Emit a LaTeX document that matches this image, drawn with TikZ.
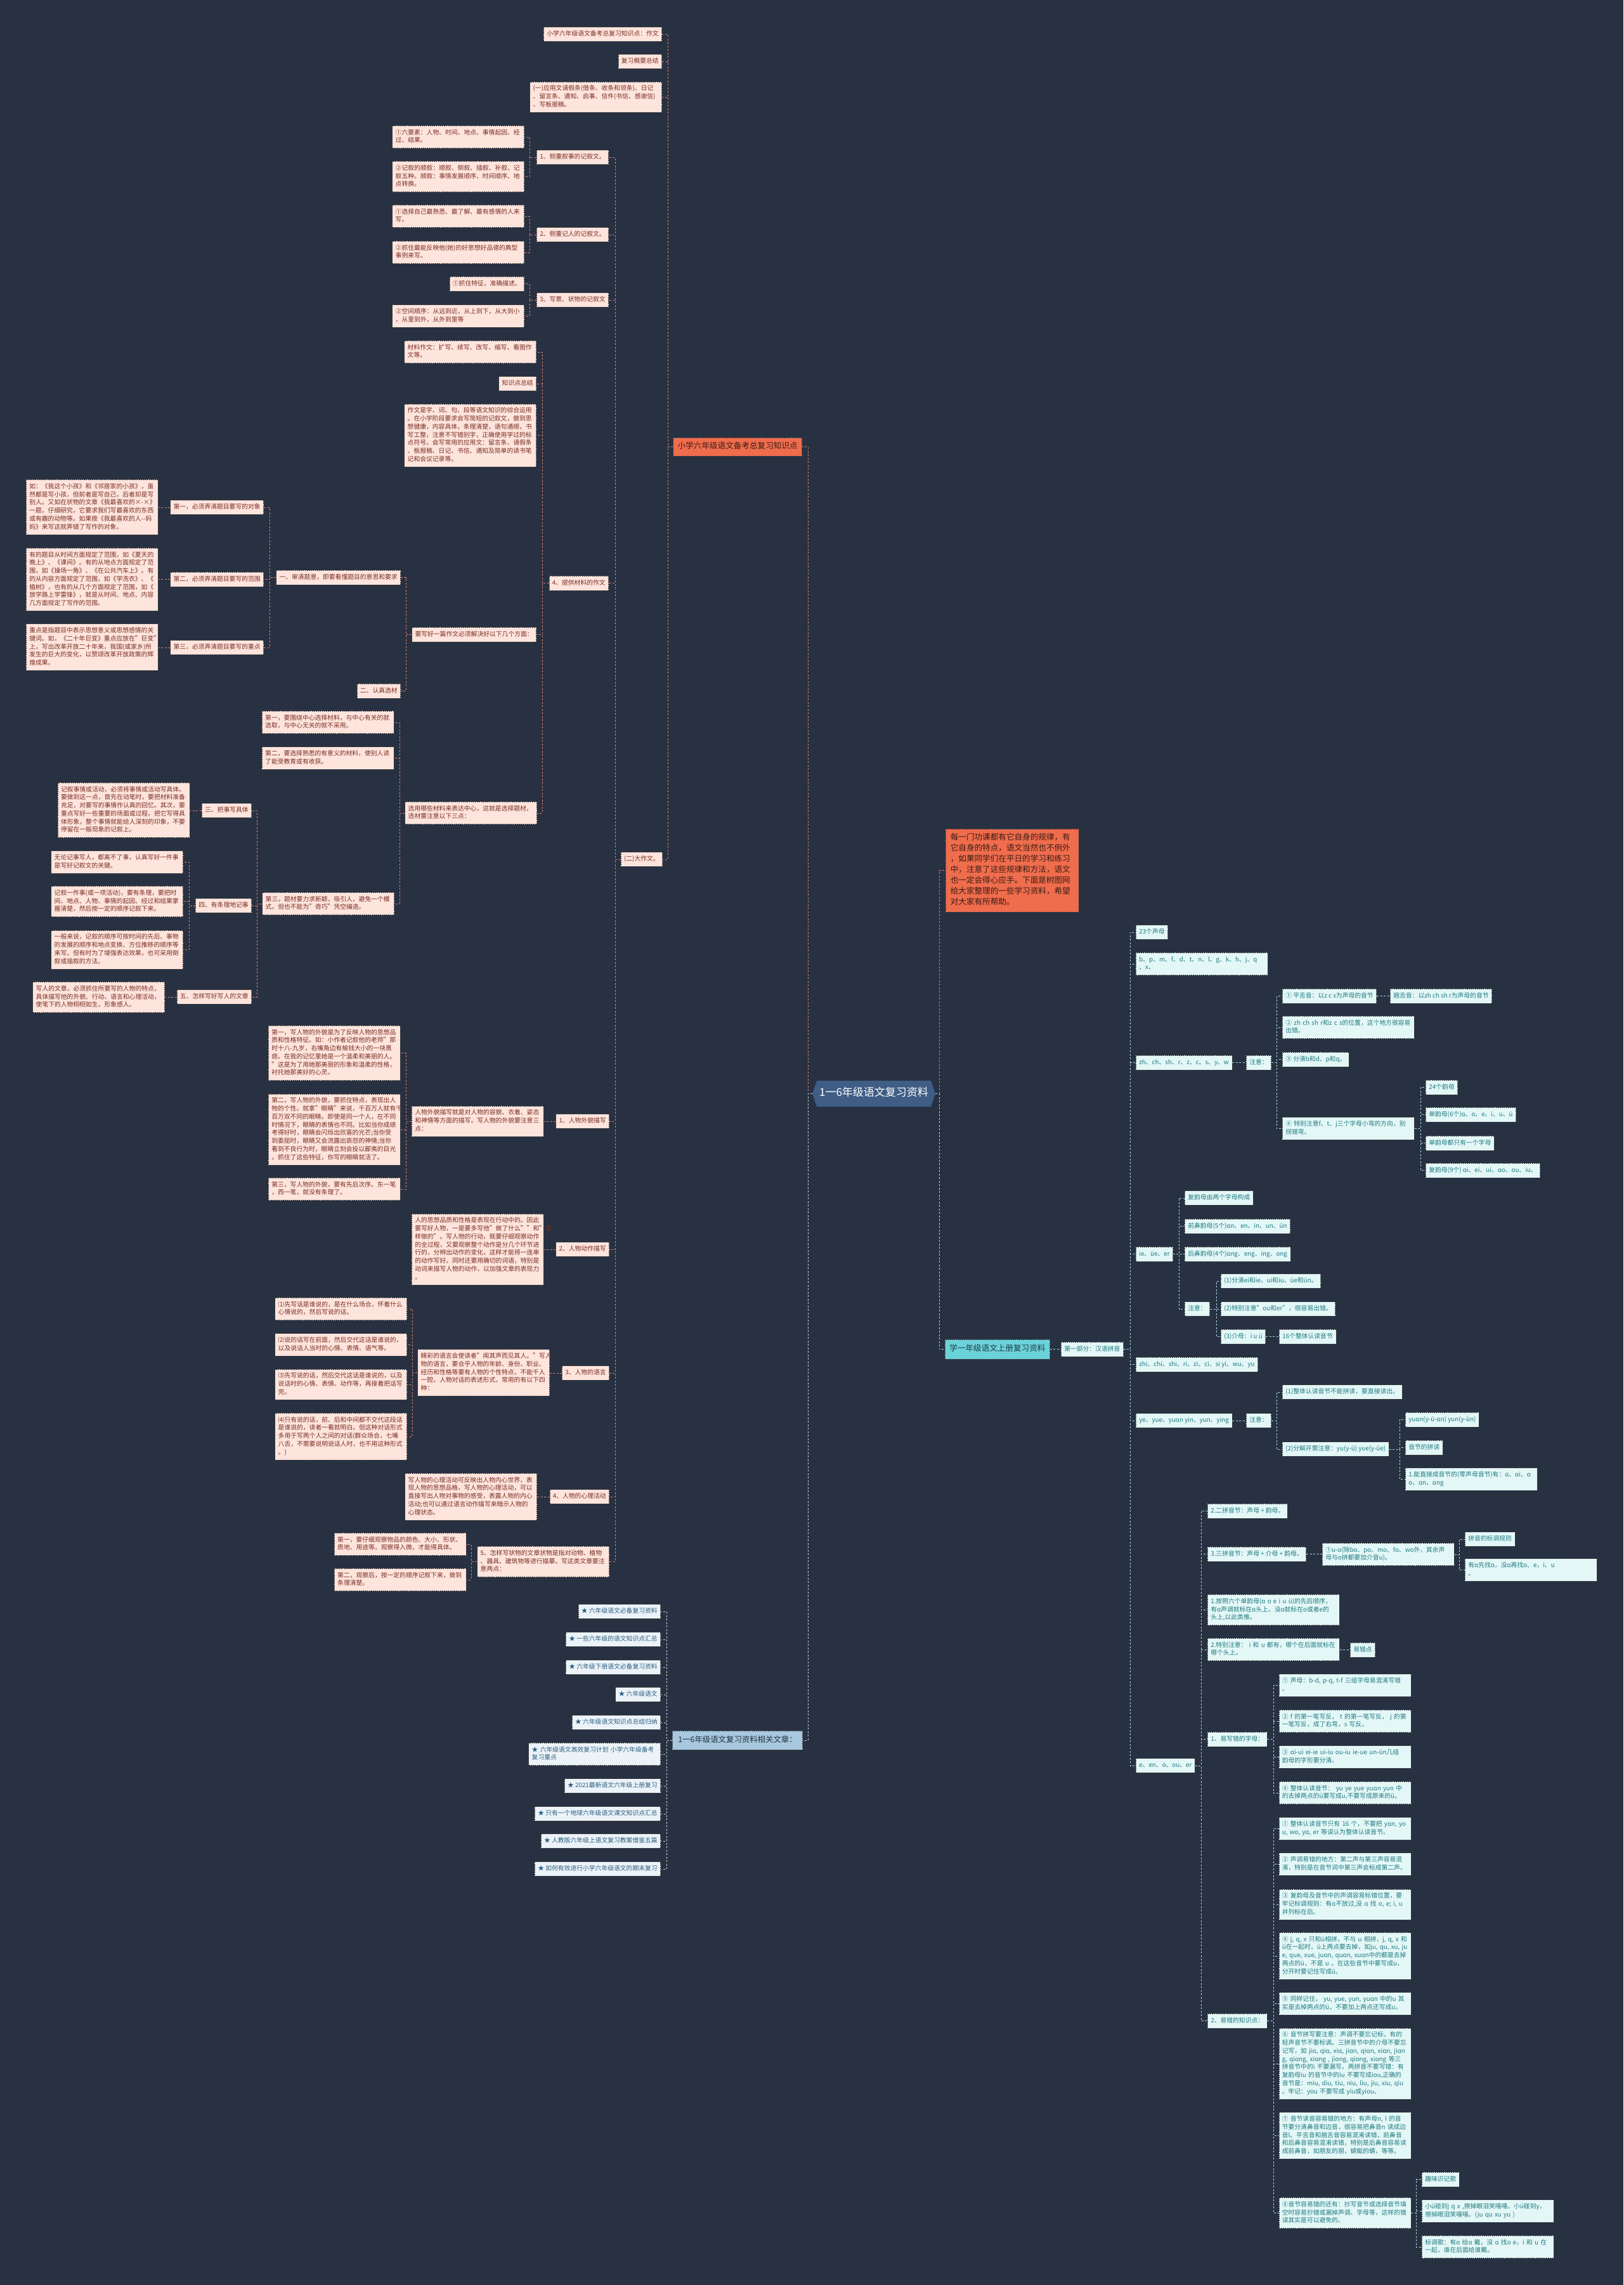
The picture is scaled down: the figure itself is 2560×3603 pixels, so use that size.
\documentclass[tikz,border=0pt]{standalone}
\usepackage{fontspec}
\setmainfont{Noto Sans CJK SC}
\usetikzlibrary{shapes.symbols}
\definecolor{bg}{HTML}{283142}
\definecolor{pkfill}{HTML}{FDE4DC}
\definecolor{pktext}{HTML}{7A2E24}
\definecolor{pkline}{HTML}{D9826B}
\definecolor{redfill}{HTML}{EF6C4D}
\definecolor{redtext}{HTML}{3B1D14}
\definecolor{rootfill}{HTML}{3F5D85}
\definecolor{cyfill}{HTML}{E4F7F7}
\definecolor{cytext}{HTML}{1F7A80}
\definecolor{cyline}{HTML}{A6DCE0}
\definecolor{fgfill}{HTML}{6CD2DA}
\definecolor{fgtext}{HTML}{1B3D44}
\definecolor{blfill}{HTML}{A7C8DE}
\definecolor{bltext}{HTML}{22313F}
\definecolor{bifill}{HTML}{ECF3F8}
\definecolor{bitext}{HTML}{2B5E80}
\definecolor{blline}{HTML}{C6D4DF}
\definecolor{bord}{HTML}{3C3C3C}
\newcommand\TL[1]{\begin{tabular}{@{}l@{}}#1\end{tabular}}
\newcommand\LC[4]{\foreach \kid in {#4}{\draw[#1] (#2.west) -- (#2.west -| #3) |- (\kid.east);}}
\newcommand\RC[4]{\foreach \kid in {#4}{\draw[#1] (#2.east) -- (#2.east -| #3) |- (\kid.west);}}
\tikzset{
 nbox/.style={rectangle, draw=bord, dash pattern=on 2pt off 1.2pt, line width=0.6pt,
   inner xsep=5pt, inner ysep=5pt, font=\fontsize{9.8}{12.75}\selectfont, align=left,
   execute at begin node=\strut},
 spk/.style={nbox, fill=pkfill, text=pktext},
 scy/.style={nbox, fill=cyfill, text=cytext},
 sbi/.style={nbox, fill=bifill, text=bitext},
 lt/.style={anchor=east},
 rt/.style={anchor=west},
 tw/.style={text width=198pt},
 cpk/.style={draw=pkline, line width=1pt, dash pattern=on 3pt off 2.5pt},
 ccy/.style={draw=cyline, line width=1pt, dash pattern=on 3pt off 2.5pt},
 cbl/.style={draw=blline, line width=1pt, dash pattern=on 3pt off 2.5pt},
 rednode/.style={nbox, fill=redfill, text=redtext, font=\fontsize{12.6}{15}\selectfont, inner xsep=7pt, inner ysep=7pt},
 rootnode/.style={signal, signal to=west and east, signal pointer angle=142, fill=rootfill, text=white,
   font=\fontsize{17}{20}\selectfont, inner xsep=4pt, minimum height=41pt, execute at begin node=\strut},
 fgnode/.style={nbox, fill=fgfill, text=fgtext, font=\fontsize{12.6}{15}\selectfont, inner xsep=7pt, inner ysep=8pt},
 relnode/.style={nbox, fill=blfill, text=bltext, font=\fontsize{12.4}{15}\selectfont, inner xsep=9pt, inner ysep=7.5pt}
}
\begin{document}
\begin{tikzpicture}[x=1pt,y=-1pt]
\fill[bg] (0,0) rectangle (2560,3603);
\useasboundingbox (0,0) rectangle (2560,3603);
% trunk coordinates
\coordinate (tL) at (1274,0); \coordinate (tR) at (1481,0);
\coordinate (tRed) at (1053,0); \coordinate (tBig) at (970,0);
\coordinate (t835) at (835,0); \coordinate (t855) at (855,0);
\coordinate (t640) at (640,0); \coordinate (t425) at (425,0);
\coordinate (t630) at (630,0); \coordinate (t405) at (405,0);
\coordinate (t298) at (298,0); \coordinate (t650) at (650,0);
\coordinate (t743) at (743,0); \coordinate (t1051) at (1051,0);
\coordinate (t1782) at (1782,0); \coordinate (t2013) at (2013,0);
\coordinate (t2240) at (2240,0); \coordinate (t1859) at (1859,0);
\coordinate (t1918) at (1918,0); \coordinate (t2207) at (2207,0);
\coordinate (t1894) at (1894,0); \coordinate (t2301) at (2301,0);
\coordinate (t2008) at (2008,0); \coordinate (t2233) at (2233,0);

% root and main branches
\node[rootnode] (root) at (1378,1724.5) {1一6年级语文复习资料};
\node[rednode, anchor=east] (P) at (1265,704.5) {小学六年级语文备考总复习知识点};
\node[rednode, anchor=west, text width=195pt, font=\fontsize{12.6}{17}\selectfont, inner xsep=7.5pt, inner ysep=6pt] (desc) at (1491,1372.5)
 {\TL{每一门功课都有它自身的规律，有\\它自身的特点，语文当然也不例外\\，如果同学们在平日的学习和练习\\中，注意了这些规律和方法，语文\\也一定会得心应手。下面是树图网\\给大家整理的一些学习资料，希望\\对大家有所帮助。}};
\node[fgnode, rt] (fg) at (1490,2127.5) {学一年级语文上册复习资料};
\node[relnode, lt] (rel) at (1266,2744) {1一6年级语文复习资料相关文章：};

% ---------- left (pink) ----------
\node[spk,lt] (a1) at (1044,54) {小学六年级语文备考总复习知识点：作文};
\node[spk,lt] (a2) at (1044,97) {复习概要总结};
\node[spk,lt,tw] (a3) at (1044,153) {\TL{(一)应用文请假条(借条、收条和领条)、日记\\、留言条、通知、启事、信件(书信、感谢信)\\、写板报稿。}};
\node[spk,lt] (a4) at (1045,1355) {(二)大作文。};

\node[spk,lt] (b1) at (960,248) {1、侧重叙事的记叙文。};
\node[spk,lt] (b2) at (960,370) {2、侧重记人的记叙文。};
\node[spk,lt] (b3) at (960,473) {3、写景、状物的记叙文};
\node[spk,lt] (b4) at (960,919.5) {4、提供材料的作文};
\node[spk,lt] (b5) at (961,1768) {1、人物外貌描写};
\node[spk,lt] (b6) at (961,1970) {2、人物动作描写};
\node[spk,lt] (b7) at (961,2165) {3、人物的语言};
\node[spk,lt] (b8) at (961,2360) {4、人物的心理活动};
\node[spk,lt,tw] (b9) at (961,2462.5) {\TL{5、怎样写状物的文章状物是指对动物、植物\\、器具、建筑物等进行描摹。写这类文章要注\\意两点：}};

\node[spk,lt,tw] (c11) at (827,216) {\TL{①六要素：人物、时间、地点、事情起因、经\\过、结果。}};
\node[spk,lt,tw] (c12) at (827,278.5) {\TL{②记叙的顺叙：顺叙、倒叙、插叙、补叙、记\\叙五种。顺叙：事情发展顺序、时间顺序、地\\点转换。}};
\node[spk,lt,tw] (c21) at (827,341) {\TL{①选择自己最熟悉、最了解、最有感情的人来\\写。}};
\node[spk,lt,tw] (c22) at (827,398) {\TL{②抓住最能反映他(她)的好思想好品德的典型\\事例来写。}};
\node[spk,lt] (c31) at (827,447.5) {①抓住特征，准确描述。};
\node[spk,lt,tw] (c32) at (827,498.5) {\TL{②空间顺序：从远到近，从上到下，从大到小\\，从里到外，从外到里等}};
\node[spk,lt,tw] (c41) at (846,555) {\TL{材料作文：扩写、续写、改写、缩写、看图作\\文等。}};
\node[spk,lt] (c42) at (846,605) {知识点总结};
\node[spk,lt,tw] (c43) at (846,686.5) {\TL{作文是字、词、句、段等语文知识的综合运用\\。在小学阶段要求会写简短的记叙文，做到思\\想健康，内容具体，条理清楚，语句通顺，书\\写工整，注意不写错别字，正确使用学过的标\\点符号。会写常用的应用文：留言条、请假条\\、板报稿、日记、书信、通知及简单的读书笔\\记和会议记录等。}};
\node[spk,lt] (c44) at (846,1000.5) {要写好一篇作文必须解决好以下几个方面：};
\node[spk,lt,tw] (c45) at (847,1282) {\TL{选用哪些材料来表达中心，这就是选择题材，\\选材要注意以下三点：}};

\node[spk,lt] (d1) at (632,910.5) {一、审清题意，即要看懂题目的意思和要求};
\node[spk,lt] (d2) at (632,1089.5) {二、认真选材};
\node[spk,lt] (e1) at (416,800) {第一，必须弄清题目要写的对象};
\node[spk,lt] (e2) at (416,913.5) {第二，必须弄清题目要写的范围};
\node[spk,lt] (e3) at (416,1021) {第三，必须弄清题目要写的重点};
\node[spk,lt,tw] (f1) at (249.6,799.7) {\TL{如：《我这个小孩》和《邻居家的小孩》，虽\\然都是写小孩，但前者是写自己，后者却是写\\别人。又如在状物的文章《我最喜欢的×-×》\\一题，仔细研究，它要求我们写最喜欢的东西\\或有趣的动物等。如果按《我最喜欢的人-{}-妈\\妈》来写这就弄错了写作的对象。}};
\node[spk,lt,tw] (f2) at (249.6,913.75) {\TL{有的题目从时间方面规定了范围，如《夏天的\\晚上》、《课间》。有的从地点方面规定了范\\围，如《操场一角》、《在公共汽车上》。有\\的从内容方面规定了范围，如《学洗衣》、《\\植树》，也有的从几个方面规定了范围，如《\\放学路上学雷锋》，就是从时间、地点、内容\\几方面规定了写作的范围。}};
\node[spk,lt,tw] (f3) at (249.6,1020.5) {\TL{重点是指题目中表示思想意义或思想感情的关\\键词。如，《二十年巨变》重点应放在"巨变"\\上，写出改革开放二十年来，我国(或家乡)所\\发生的巨大的变化，以赞颂改革开放政策的辉\\煌成果。}};

\node[spk,lt,tw] (g1) at (621.5,1139) {\TL{第一，要围绕中心选择材料，与中心有关的就\\选取，与中心无关的就不采用。}};
\node[spk,lt,tw] (g2) at (621.5,1195.5) {\TL{第二，要选择熟悉的有意义的材料，使别人读\\了能受教育或有收获。}};
\node[spk,lt,tw] (g3) at (622,1425) {\TL{第三，题材要力求新颖，吸引人，避免一个模\\式。但也不能为"奇巧"凭空编造。}};
\node[spk,lt] (h1) at (397,1278) {三、把事写具体};
\node[spk,lt] (h2) at (397,1428) {四、有条理地记事};
\node[spk,lt] (h3) at (397,1572) {五、怎样写好写人的文章};
\node[spk,lt,tw] (i1) at (299.3,1277.5) {\TL{记叙事情或活动，必须将事情或活动写具体。\\要做到这一点，首先在动笔时，要把材料准备\\充足，对要写的事情作认真的回忆。其次，要\\重点写好一些重要的场面或过程，把它写得具\\体形象，整个事情就能给人深刻的印象，不要\\停留在一般现象的记叙上。}};
\node[spk,lt,tw] (i2) at (289,1359.5) {\TL{无论记事写人，都离不了事，认真写好一件事\\是写好记叙文的关键。}};
\node[spk,lt,tw] (i3) at (289,1421.5) {\TL{记叙一件事(或一项活动)，要有条理，要把时\\间、地点、人物、事情的起因、经过和结果掌\\握清楚，然后按一定的顺序记叙下来。}};
\node[spk,lt,tw] (i4) at (289,1497.5) {\TL{一般来说，记叙的顺序可按时间的先后、事物\\的发展的顺序和地点变换、方位推移的顺序等\\来写。但有时为了增强表达效果，也可采用倒\\叙或插叙的方法。}};
\node[spk,lt,tw] (i5) at (260,1572.5) {\TL{写人的文章，必须抓住所要写的人物的特点，\\具体描写他的外貌、行动、语言和心理活动，\\使笔下的人物栩栩如生，形象感人。}};

\node[spk,lt,tw] (j1) at (857.6,1768) {\TL{人物外貌描写就是对人物的容貌、衣着、姿态\\和神情等方面的描写。写人物的外貌要注意三\\点：}};
\node[spk,lt,tw] (j2) at (857.6,1970) {\TL{人的思想品质和性格是表现在行动中的。因此\\要写好人物，一是要多写他"做了什么""和"怎\\样做的"。写人物的行动，既要仔细观察动作\\的全过程，又要观察整个动作是分几个环节进\\行的，分辨出动作的变化，这样才能将一连串\\的动作写好。同时还要用确切的词语，特别是\\动词来描写人物的动作，以加强文章的表现力\\。}};
\node[spk,lt,tw] (j3) at (867,2164.5) {\TL{精彩的语言会使读者"闻其声而见其人。"写人\\物的语言，要合乎人物的年龄、身份、职业、\\经历和性格等要有人物的个性特点，不能千人\\一腔。人物对话的表述形式，常用的有以下四\\种：}};
\node[spk,lt,tw] (j4) at (847,2360) {\TL{写人物的心理活动可反映出人物内心世界，表\\现人物的思想品格，写人物的心理活动，可以\\直接写出人物对事物的感受，表露人物的内心\\活动;也可以通过语言动作描写来暗示人物的\\心理状态。}};
\node[spk,lt,tw] (k1) at (631.6,1660.5) {\TL{第一，写人物的外貌是为了反映人物的思想品\\质和性格特征。如：小作者记叙他的老师"那\\时十八-九岁，右嘴角边有榆钱大小的一块黑\\痣。在我的记忆里她是一个温柔和美丽的人。\\"这是为了用她那美丽的形象和温柔的性格，\\衬托她那美好的心灵。}};
\node[spk,lt,tw] (k2) at (631.6,1781) {\TL{第二，写人物的外貌，要抓住特点，表现出人\\物的个性。就拿"眼睛"来说，千百万人就有千\\百万双不同的眼睛。即使是同一个人，在不同\\时情况下，眼睛的表情也不同。比如当你成绩\\考得好时，眼睛会闪烁出欣喜的光芒;当你受\\到委屈时，眼睛又会流露出哀怨的神情;当你\\看到不良行为时，眼睛立刻会投以鄙夷的目光\\。抓住了这些特征，你写的眼睛就活了。}};
\node[spk,lt,tw] (k3) at (631.6,1875) {\TL{第三，写人物的外貌，要有先后次序。东一笔\\，西一笔，就没有条理了。}};
\node[spk,lt,tw] (k4) at (642,2064) {\TL{⑴先写话是谁说的，是在什么场合，怀着什么\\心情说的，然后写说的话。}};
\node[spk,lt,tw] (k5) at (642,2120.5) {\TL{⑵说的话写在前面，然后交代这话是谁说的，\\以及说话人当时的心情、表情、语气等。}};
\node[spk,lt,tw] (k6) at (642,2183) {\TL{⑶先写说的话，然后交代这话是谁说的，以及\\说话时的心情、表情、动作等，再接着把话写\\完。}};
\node[spk,lt,tw] (k7) at (642,2265) {\TL{⑷只有说的话，前、后和中间都不交代这段话\\是谁说的，读者一看就明白。但这种对话形式\\多用于写两个人之间的对话(群众场合，七嘴\\八舌，不需要说明说话人时，也不用这种形式\\。)}};
\node[spk,lt,tw] (k8) at (735.5,2435) {\TL{第一，要仔细观察物品的颜色、大小、形状、\\质地、用途等。观察得入微，才能得具体。}};
\node[spk,lt,tw] (k9) at (735.5,2491) {\TL{第二，观察后，按一定的顺序记叙下来，做到\\条理清楚。}};

% ---------- related articles ----------
\node[sbi,lt] (r1) at (1042,2541) {★ 六年级语文必备复习资料};
\node[sbi,lt] (r2) at (1042,2585) {★ 一些六年级的语文知识点汇总};
\node[sbi,lt] (r3) at (1042,2629) {★ 六年级下册语文必备复习资料};
\node[sbi,lt] (r4) at (1042,2672) {★ 六年级语文};
\node[sbi,lt] (r5) at (1042,2716) {★ 六年级语文知识点总结归纳};
\node[sbi,lt,tw] (r6) at (1042,2766) {\TL{★ 六年级语文高效复习计划 小学六年级备考\\复习重点}};
\node[sbi,lt] (r7) at (1042,2816) {★ 2021最新语文六年级上册复习};
\node[sbi,lt] (r8) at (1042,2860) {★ 只有一个地球六年级语文课文知识点汇总};
\node[sbi,lt] (r9) at (1042,2903) {★ 人教版六年级上语文复习教案借鉴五篇};
\node[sbi,lt] (r10) at (1042,2947) {★ 如何有效进行小学六年级语文的期末复习};

% ---------- right (cyan) ----------
\node[scy,rt] (part1) at (1673,2127.5) {第一部分：汉语拼音};
\node[scy,rt] (s1) at (1791,1470) {23个声母};
\node[scy,rt,tw] (s2) at (1791,1520) {\TL{b、p、m、f、d、t、n、l、g、k、h、j、q\\、x、}};
\node[scy,rt] (s3) at (1791,1675.5) {zh、ch、sh、r、z、c、s、y、w};
\node[scy,rt] (s4) at (1791,1977.5) {ie、üe、er};
\node[scy,rt] (s5) at (1791,2151.5) {zhi、chi、shi、ri、zi、ci、si yi、wu、yu};
\node[scy,rt] (s6) at (1791,2240) {ye、yue、yuɑn yin、yun、ying};
\node[scy,rt] (s7) at (1791,2784) {e、en、o、ou、er};

\node[scy,rt] (n3) at (1965,1675.5) {注意：};
\node[scy,rt] (u1) at (2022,1570.5) {① 平舌音：以z c s为声母的音节};
\node[scy,rt] (u1b) at (2192,1570.5) {翘舌音：以zh ch sh r为声母的音节};
\node[scy,rt,tw] (u2) at (2022,1620) {\TL{② zh ch sh r和z c s的位置，这个地方很容易\\出错。}};
\node[scy,rt] (u3) at (2022,1670.5) {③ 分清b和d、p和q。};
\node[scy,rt,tw] (u4) at (2022,1779.5) {\TL{④ 特别注意f、t、j三个字母小弯的方向，别\\拐错弯。}};
\node[scy,rt] (v1) at (2248,1714.5) {24个韵母};
\node[scy,rt] (v2) at (2248,1757.5) {单韵母(6个)ɑ、o、e、i、u、ü};
\node[scy,rt] (v3) at (2248,1802.5) {单韵母都只有一个字母};
\node[scy,rt] (v4) at (2248,1845.5) {复韵母(9个) ɑi、ei、ui、ɑo、ou、iu、};

\node[scy,rt] (w1) at (1868,1889) {复韵母由两个字母构成};
\node[scy,rt] (w2) at (1868,1933.5) {前鼻韵母(5个)ɑn、en、in、un、ün};
\node[scy,rt] (w3) at (1868,1977.5) {后鼻韵母(4个)ɑng、eng、ing、ong};
\node[scy,rt] (w4) at (1868,2064) {注意：};
\node[scy,rt] (x1) at (1925,2020) {(1)分清ei和ie、ui和iu、üe和ün。};
\node[scy,rt] (x2) at (1925,2064) {(2)特别注意"ou和er"，很容易出错。};
\node[scy,rt] (x3) at (1925,2107.5) {(3)介母：i u ü};
\node[scy,rt] (x3b) at (2017,2107.5) {16个整体认读音节};

\node[scy,rt] (n6) at (1965,2240) {注意：};
\node[scy,rt] (y1) at (2022,2195) {(1)整体认读音节不能拼读，要直接读出。};
\node[scy,rt] (y2) at (2022,2285) {(2)分解开需注意：yu(y-ü) yue(y-üe)};
\node[scy,rt] (z1) at (2216,2238.5) {yuɑn(y-ü-ɑn) yun(y-ün)};
\node[scy,rt] (z2) at (2216,2282.5) {音节的拼读};
\node[scy,rt,tw] (z3) at (2216,2332.5) {\TL{1.能直接成音节的(零声母音节)有：ɑ、ɑi、ɑ\\o、ɑn、ɑng}};

\node[scy,rt] (q1) at (1904,2382.5) {2.二拼音节：声母 + 韵母。};
\node[scy,rt] (q2) at (1904,2450.5) {3.三拼音节：声母 + 介母 + 韵母。};
\node[scy,rt,tw] (q2b) at (2085,2451) {\TL{①u-o(除bo、po、mo、fo、wo外，其余声\\母与o拼都要加介音u)。}};
\node[scy,rt] (q2c) at (2310,2427) {拼音的标调规则};
\node[scy,rt,tw] (q2d) at (2310,2475.5) {\TL{有ɑ先找ɑ，没ɑ再找o、e，i、u\\。}};
\node[scy,rt,tw] (q3) at (1904,2538.5) {\TL{1.按照六个单韵母(ɑ o e i u ü)的先后顺序，\\有ɑ声调就标在ɑ头上，没ɑ就标在o或者e的\\头上,以此类推。}};
\node[scy,rt,tw] (q4) at (1904,2601) {\TL{2.特别注意： i 和 u 都有，哪个在后面就标在\\哪个头上。}};
\node[scy,rt] (q4b) at (2129,2601.5) {易错点};
\node[scy,rt] (q5) at (1904,2742.5) {1、易写错的字母：};
\node[scy,rt,tw] (m1) at (2016.5,2657.5) {\TL{① 声母：b-d, p-q, t-f 三组字母易混淆写错\\。}};
\node[scy,rt,tw] (m2) at (2016.5,2714) {\TL{② f 的第一笔写反， t 的第一笔写反， j 的第\\一笔写反，成了右弯，s 写反。}};
\node[scy,rt,tw] (m3) at (2016.5,2770.5) {\TL{③ ɑi-ui ei-ie ui-iu ou-iu ie-ue un-ün几组\\韵母的字形要分清。}};
\node[scy,rt,tw] (m4) at (2016.5,2827) {\TL{④ 整体认读音节： yu ye yue yuɑn yun 中\\的去掉两点的ü要写成u,不要写成原来的ü。}};
\node[scy,rt] (q6) at (1904,3186.5) {2、易错的知识点：};
\node[scy,rt,tw] (o1) at (2016.5,2883.5) {\TL{① 整体认读音节只有 16 个，不要把 yɑn, yo\\u, wo, yɑ, er 等误认为整体认读音节。}};
\node[scy,rt,tw] (o2) at (2016.5,2939.5) {\TL{② 声调易错的地方：第二声与第三声容易混\\淆，特别是在音节词中第三声会标成第二声。}};
\node[scy,rt,tw] (o3) at (2016.5,3003) {\TL{③ 复韵母及音节中的声调容易标错位置，要\\牢记标调规则：有ɑ不放过,没 ɑ 找 o, e; i, u\\并列标在后。}};
\node[scy,rt,tw] (o4) at (2016.5,3084) {\TL{④ j, q, x 只和ü相拼，不与 u 相拼，j, q, x 和\\ü在一起时，ü上两点要去掉，如ju, qu, xu, ju\\e, que, xue, juɑn, quɑn, xuɑn中的都是去掉\\两点的ü，不是 u 。在这些音节中要写成u，\\分开时要记住写成ü。}};
\node[scy,rt,tw] (o5) at (2016.5,3159.5) {\TL{⑤ 同样记住， yu, yue, yun, yuɑn 中的u 其\\实是去掉两点的ü，不要加上两点还写成u。}};
\node[scy,rt,tw] (o6) at (2016.5,3254) {\TL{⑥ 音节拼写要注意：声调不要忘记标，有的\\轻声音节不要标调。三拼音节中的介母不要忘\\记写，如 jiɑ, qiɑ, xiɑ, jiɑn, qiɑn, xiɑn, jiɑn\\g, qiɑng, xiɑng , jiong, qiong, xiong 等三\\拼音节中的i 不要漏写。两拼音不要写错：有\\复韵母iu 的音节中的iu 不要写成iou,正确的\\音节是：miu, diu, tiu, niu, liu, jiu, xiu, qiu\\。牢记：you 不要写成 yiu或yiou。}};
\node[scy,rt,tw] (o7) at (2016.5,3367.5) {\TL{⑦ 音节读音容易错的地方：有声母n, l 的音\\节要分清鼻音和边音，很容易把鼻音n 读成边\\音l。平舌音和翘舌音容易混淆读错，前鼻音\\和后鼻音容易混淆读错，特别是后鼻音容易读\\成前鼻音，如朋友的朋，蜻蜓的蜻，等等。}};
\node[scy,rt,tw] (o8) at (2016.5,3489.5) {\TL{⑧音节容易错的还有：抄写音节或选择音节填\\空时容易抄错或漏掉声调、字母等，这样的错\\误其实是可以避免的。}};
\node[scy,rt] (o81) at (2242,3436.5) {趣味识记歌};
\node[scy,rt,tw] (o82) at (2242,3486.5) {\TL{小ü碰到j q x ,擦掉眼泪笑嘻嘻。小ü碰到y，\\擦掉眼泪笑嘻嘻。(ju qu xu yu )}};
\node[scy,rt,tw] (o83) at (2242,3543) {\TL{标调歌：有ɑ 给ɑ 戴，没 ɑ 找o e，i 和 u 在\\一起，谁在后面给谁戴。}};

% ---------- connectors ----------
\draw[cpk] (root.west) -- (root.west -| tL) |- (P.east);
\draw[cbl] (root.west) -- (root.west -| tL) |- (rel.east);
\draw[cpk] (root.east) -- (root.east -| tR) |- (desc.west);
\draw[ccy] (root.east) -- (root.east -| tR) |- (fg.west);

\LC{cpk}{P}{tRed}{a1,a2,a3,a4}
\LC{cpk}{a4}{tBig}{b1,b2,b3,b4,b5,b6,b7,b8,b9}
\LC{cpk}{b1}{t835}{c11,c12}
\LC{cpk}{b2}{t835}{c21,c22}
\LC{cpk}{b3}{t835}{c31,c32}
\LC{cpk}{b4}{t855}{c41,c42,c43,c44,c45}
\LC{cpk}{c44}{t640}{d1,d2}
\LC{cpk}{d1}{t425}{e1,e2,e3}
\draw[cpk] (e1.west) -- (e1.west -| f1.east);
\draw[cpk] (e2.west) -- (e2.west -| f2.east);
\draw[cpk] (e3.west) -- (e3.west -| f3.east);
\LC{cpk}{c45}{t630}{g1,g2,g3}
\LC{cpk}{g3}{t405}{h1,h2,h3}
\draw[cpk] (h1.west) -- (h1.west -| i1.east);
\LC{cpk}{h2}{t298}{i2,i3,i4}
\draw[cpk] (h3.west) -- (h3.west -| i5.east);
\draw[cpk] (b5.west) -- (b5.west -| j1.east);
\draw[cpk] (b6.west) -- (b6.west -| j2.east);
\draw[cpk] (b7.west) -- (b7.west -| j3.east);
\draw[cpk] (b8.west) -- (b8.west -| j4.east);
\LC{cpk}{j1}{t640}{k1,k2,k3}
\LC{cpk}{j3}{t650}{k4,k5,k6,k7}
\LC{cpk}{b9}{t743}{k8,k9}
\LC{cbl}{rel}{t1051}{r1,r2,r3,r4,r5,r6,r7,r8,r9,r10}

\draw[ccy] (fg.east) -- (fg.east -| part1.west);
\RC{ccy}{part1}{t1782}{s1,s2,s3,s4,s5,s6,s7}
\draw[ccy] (s3.east) -- (s3.east -| n3.west);
\RC{ccy}{n3}{t2013}{u1,u2,u3,u4}
\draw[ccy] (u1.east) -- (u1.east -| u1b.west);
\RC{ccy}{u4}{t2240}{v1,v2,v3,v4}
\RC{ccy}{s4}{t1859}{w1,w2,w3,w4}
\RC{ccy}{w4}{t1918}{x1,x2,x3}
\draw[ccy] (x3.east) -- (x3.east -| x3b.west);
\draw[ccy] (s6.east) -- (s6.east -| n6.west);
\RC{ccy}{n6}{t2013}{y1,y2}
\RC{ccy}{y2}{t2207}{z1,z2,z3}
\RC{ccy}{s7}{t1894}{q1,q2,q3,q4,q5,q6}
\draw[ccy] (q2.east) -- (q2.east -| q2b.west);
\RC{ccy}{q2b}{t2301}{q2c,q2d}
\draw[ccy] (q4.east) -- (q4.east -| q4b.west);
\RC{ccy}{q5}{t2008}{m1,m2,m3,m4}
\RC{ccy}{q6}{t2008}{o1,o2,o3,o4,o5,o6,o7,o8}
\RC{ccy}{o8}{t2233}{o81,o82,o83}
\end{tikzpicture}
\end{document}
